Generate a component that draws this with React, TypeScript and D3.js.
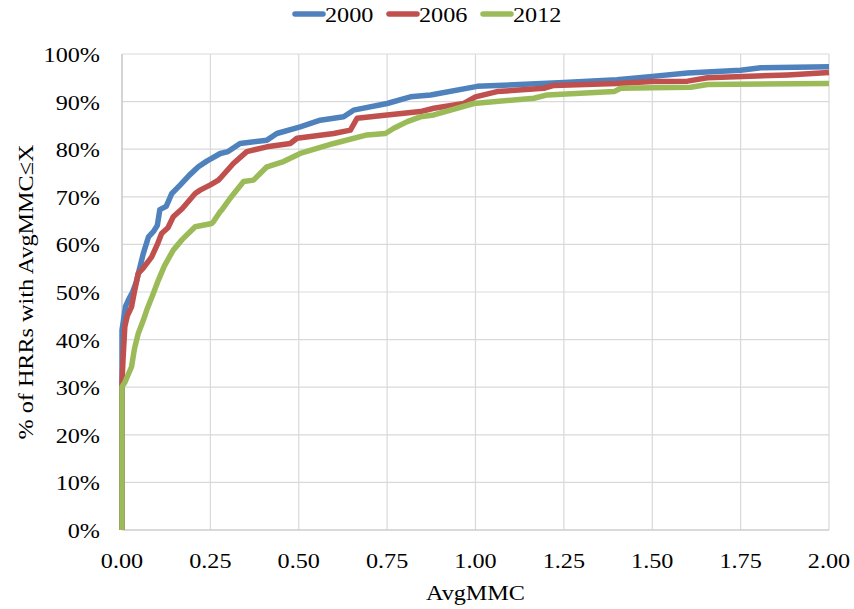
import React from "react";
import * as d3 from "d3";

const seriesNames = ["2000", "2006", "2012"];
const seriesColors = ["#4F81BD", "#C0504D", "#9BBB59"];

const xTicks = [0, 0.25, 0.5, 0.75, 1.0, 1.25, 1.5, 1.75, 2.0];
const yTicks = [0, 10, 20, 30, 40, 50, 60, 70, 80, 90, 100];

const x2000 = [0, 0, 0.004, 0.01, 0.018, 0.03, 0.04, 0.051, 0.06, 0.075, 0.09, 0.1, 0.107, 0.125, 0.141, 0.165, 0.19, 0.216, 0.24, 0.278, 0.3, 0.334, 0.41, 0.438, 0.504, 0.561, 0.627, 0.655, 0.75, 0.816, 0.873, 1.005, 1.25, 1.4, 1.5, 1.6, 1.75, 1.807, 2.0];
const y2000 = [0, 42, 44, 47, 48.3, 50, 52, 55.3, 58, 61.6, 62.8, 64, 67.3, 68, 70.7, 72.5, 74.5, 76.3, 77.5, 79.1, 79.5, 81.2, 81.9, 83.3, 84.7, 86.1, 86.8, 88.2, 89.6, 91, 91.4, 93.2, 94, 94.6, 95.3, 96, 96.6, 97.1, 97.3];

const x2006 = [0, 0, 0.003, 0.006, 0.008, 0.015, 0.027, 0.035, 0.046, 0.06, 0.084, 0.1, 0.112, 0.13, 0.145, 0.17, 0.207, 0.221, 0.25, 0.273, 0.278, 0.315, 0.353, 0.41, 0.476, 0.495, 0.599, 0.646, 0.665, 0.75, 0.844, 0.882, 0.967, 1.0, 1.061, 1.193, 1.222, 1.4, 1.5, 1.6, 1.656, 1.883, 2.0];
const y2006 = [0, 31, 36, 40, 42.7, 45, 46.9, 50, 53.9, 55, 57.4, 60, 62.3, 63.5, 65.8, 67.5, 70.7, 71.4, 72.5, 73.5, 73.9, 77, 79.5, 80.5, 81.2, 82.3, 83.3, 84, 86.5, 87.2, 87.9, 88.6, 89.6, 91, 92.1, 92.8, 93.4, 93.8, 94.2, 94.3, 95, 95.6, 96.1];

const x2012 = [0, 0, 0.008, 0.027, 0.035, 0.046, 0.06, 0.07, 0.085, 0.103, 0.12, 0.145, 0.17, 0.207, 0.254, 0.259, 0.278, 0.282, 0.306, 0.344, 0.372, 0.41, 0.457, 0.504, 0.599, 0.693, 0.745, 0.769, 0.807, 0.844, 0.882, 0.995, 1.165, 1.203, 1.392, 1.411, 1.5, 1.609, 1.656, 2.0];
const y2012 = [0, 30.1, 31, 34.3, 38, 41.3, 44, 46.2, 49, 52.5, 55.5, 58.8, 61, 63.7, 64.4, 64.8, 66.9, 67.2, 69.7, 73.2, 73.5, 76.3, 77.4, 79.1, 81.2, 83, 83.3, 84.4, 85.8, 86.8, 87.2, 89.6, 90.7, 91.4, 92.1, 92.8, 92.9, 93.0, 93.6, 93.8];

const seriesX = [x2000, x2006, x2012];
const seriesY = [y2000, y2006, y2012];

export default function App() {
  const W = 854, H = 609;
  const left = 122, right = 829, top = 54, bottom = 530;
  const xs = d3.scaleLinear().domain([0, 2]).range([left, right]);
  const ys = d3.scaleLinear().domain([0, 100]).range([bottom, top]);
  const tstyle: React.CSSProperties = { fontFamily: "Liberation Serif, Times New Roman, Times, serif", fontSize: "22px" };
  const sx = 1.1;

  const line = d3
    .line<[number, number]>()
    .x((d) => xs(d[0]))
    .y((d) => ys(d[1]))
    .curve(d3.curveLinear);

  const legendItems = [
    { lx: 295, tx: 325 },
    { lx: 389, tx: 419 },
    { lx: 483, tx: 513 },
  ];

  return (
    <svg
      width={W}
      height={H}
      style={{ position: "absolute", left: 0, top: 0, background: "#fff" }}
    >
      <rect x={0} y={0} width={W} height={H} fill="#fff" />
      {xTicks.map((t) => (
        <line key={"gx" + t} x1={xs(t)} x2={xs(t)} y1={top} y2={bottom} stroke="#d9d9d9" strokeWidth={1.2} />
      ))}
      {yTicks.map((t) => (
        <line key={"gy" + t} x1={left} x2={right} y1={ys(t)} y2={ys(t)} stroke="#d9d9d9" strokeWidth={1.2} />
      ))}
      <line x1={left} x2={left} y1={top} y2={bottom} stroke="#c8c8c8" strokeWidth={1.2} />
      <line x1={left} x2={right} y1={bottom} y2={bottom} stroke="#c8c8c8" strokeWidth={1.2} />

      {seriesX.map((xsArr, i) => {
        const pts: [number, number][] = xsArr.map((v, k) => [v, seriesY[i][k]]);
        return (
          <path
            key={"s" + i}
            d={line(pts) || ""}
            fill="none"
            stroke={seriesColors[i]}
            strokeWidth={5.5}
            strokeLinejoin="round"
            strokeLinecap="butt"
          />
        );
      })}

      {yTicks.map((t) => (
        <text
          key={"ty" + t}
          transform={`translate(${left - 22},${ys(t) + 8}) scale(${sx},1)`}
          textAnchor="end"
          style={tstyle}
          fill="#000"
        >
          {t + "%"}
        </text>
      ))}
      {xTicks.map((t) => (
        <text
          key={"tx" + t}
          transform={`translate(${xs(t)},${568}) scale(${sx},1)`}
          textAnchor="middle"
          style={tstyle}
          fill="#000"
        >
          {t.toFixed(2)}
        </text>
      ))}
      <text
        transform={`translate(${(left + right) / 2},${600}) scale(${sx},1)`}
        textAnchor="middle"
        style={tstyle}
        fill="#000"
      >
        AvgMMC
      </text>
      <text
        transform={`translate(${33},${292}) rotate(-90) scale(${sx},1)`}
        textAnchor="middle"
        style={tstyle}
        fill="#000"
      >
        % of HRRs with AvgMMC≤X
      </text>

      {seriesNames.map((n, i) => (
        <g key={"lg" + i}>
          <line
            x1={legendItems[i].lx}
            x2={legendItems[i].lx + 28}
            y1={14}
            y2={14}
            stroke={seriesColors[i]}
            strokeWidth={5.5}
            strokeLinecap="round"
          />
          <text
            transform={`translate(${legendItems[i].tx},${22}) scale(${sx},1)`}
            style={tstyle}
            fill="#000"
          >
            {n}
          </text>
        </g>
      ))}
    </svg>
  );
}
